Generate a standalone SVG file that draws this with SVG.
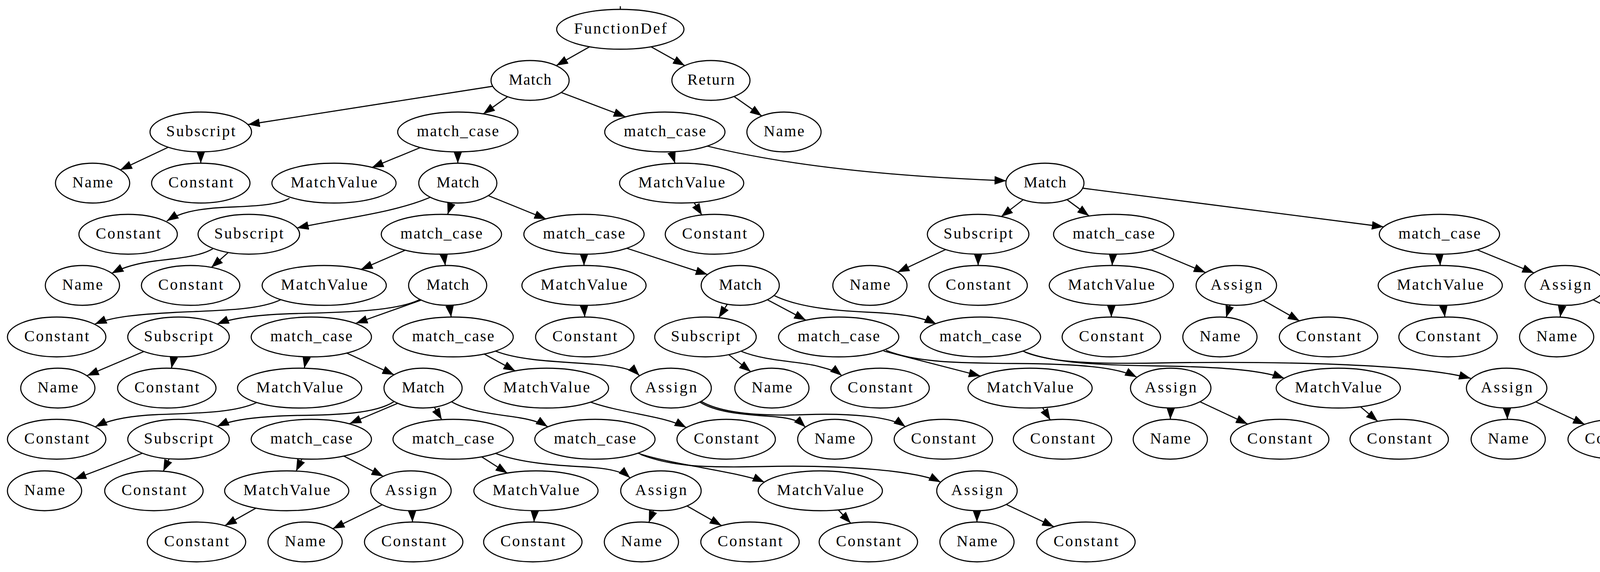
<svg xmlns="http://www.w3.org/2000/svg" width="4405" height="1465" viewBox="0 0 4405 1465">
<style>
.node ellipse{fill:#fff;stroke:#000;stroke-width:2.8}
.node text{font-family:"Liberation Serif","Times New Roman",serif;font-size:40px;text-anchor:middle;fill:#000;lengthAdjust:spacing}
.edge{fill:none;stroke:#000;stroke-width:2.8;marker-end:url(#arrow)}
.tick{stroke:#000;stroke-width:2.8}
</style>
<defs>
<marker id="arrow" markerUnits="userSpaceOnUse" viewBox="0 0 30 22" markerWidth="30" markerHeight="22" refX="30" refY="11" orient="auto">
<path d="M0,0 L30,11 L0,22 z" fill="#000"/>
</marker>
</defs>
<rect x="0" y="0" width="4405" height="1465" fill="#fff"/>
<g id="connectors">
<line class="tick" x1="1588" y1="16" x2="1588" y2="24"/>
<path class="edge" d="M1509,120 L1424,168"/>
<path class="edge" d="M1667,120 L1753,168"/>
<path class="edge" d="M1261,221 L635,319"/>
<path class="edge" d="M1299,248 L1237,292"/>
<path class="edge" d="M1437,237 L1601,299"/>
<path class="edge" d="M1879,247 L1950,297"/>
<path class="edge" d="M431,377 L308,435"/>
<path class="edge" d="M514,389 L514,418"/>
<path class="edge" d="M1076,378 L952,429"/>
<path class="edge" d="M1172,389 L1172,418"/>
<path class="edge" d="M1719,389 L1728,418"/>
<path class="edge" d="M1810,374 Q2100,445 2576,463"/>
<path class="edge" d="M741,508 C700,530 620,528 560,532 C500,536 460,545 427,566"/>
<path class="edge" d="M1102,505 C1010,545 870,560 760,584"/>
<path class="edge" d="M1156,519 L1146,549"/>
<path class="edge" d="M1250,501 L1398,561"/>
<path class="edge" d="M1777,519 L1797,551"/>
<path class="edge" d="M2620,511 L2563,555"/>
<path class="edge" d="M2731,511 L2788,553"/>
<path class="edge" d="M2772,482 L3542,581"/>
<path class="edge" d="M545,637 C510,658 450,662 400,668 C360,673 320,682 286,700"/>
<path class="edge" d="M584,647 L541,685"/>
<path class="edge" d="M1037,641 L924,690"/>
<path class="edge" d="M1136,651 L1140,680"/>
<path class="edge" d="M1495,651 L1495,680"/>
<path class="edge" d="M1605,636 L1811,703"/>
<path class="edge" d="M2421,639 L2298,697"/>
<path class="edge" d="M2504,651 L2504,680"/>
<path class="edge" d="M2849,651 L2847,680"/>
<path class="edge" d="M2947,640 L3086,698"/>
<path class="edge" d="M3685,651 L3687,680"/>
<path class="edge" d="M3782,640 L3927,699"/>
<path class="edge" d="M718,768 C660,795 560,795 450,800 C360,805 290,810 243,830"/>
<path class="edge" d="M1075,767 C1020,795 900,800 760,803 C680,805 600,812 556,830"/>
<path class="edge" d="M1080,768 L911,828"/>
<path class="edge" d="M1151,782 L1155,812"/>
<path class="edge" d="M1495,782 L1497,812"/>
<path class="edge" d="M1862,779 L1840,814"/>
<path class="edge" d="M1965,768 L2063,820"/>
<path class="edge" d="M1982,757 C2040,785 2120,795 2230,800 C2310,804 2360,812 2397,830"/>
<path class="edge" d="M2845,782 L2845,812"/>
<path class="edge" d="M3149,781 L3139,813"/>
<path class="edge" d="M3234,769 L3327,822"/>
<path class="edge" d="M3695,782 L3699,812"/>
<path class="edge" d="M3999,782 L3994,812"/>
<path class="edge" d="M4079,768 L4186,823"/>
<path class="edge" d="M369,900 L223,962"/>
<path class="edge" d="M445,914 L439,943"/>
<path class="edge" d="M785,914 L779,943"/>
<path class="edge" d="M887,904 L1009,960"/>
<path class="edge" d="M1240,907 L1319,950"/>
<path class="edge" d="M1268,899 C1320,920 1400,925 1480,930 C1560,935 1615,940 1637,962"/>
<path class="edge" d="M1865,908 L1922,952"/>
<path class="edge" d="M1898,900 C1960,925 2040,925 2090,937 C2120,945 2140,950 2155,962"/>
<path class="edge" d="M2262,899 L2510,963"/>
<path class="edge" d="M2268,897 C2340,928 2450,930 2600,931 C2760,932 2860,940 2910,966"/>
<path class="edge" d="M2618,899 C2680,925 2780,935 2950,937 C3100,939 3220,945 3288,969"/>
<path class="edge" d="M2624,902 C2690,928 2790,932 2950,930 C3150,926 3600,925 3765,969"/>
<path class="edge" d="M657,1031 C600,1058 500,1058 400,1062 C330,1065 280,1075 244,1093"/>
<path class="edge" d="M1008,1029 C960,1060 860,1063 760,1064 C680,1066 600,1072 556,1092"/>
<path class="edge" d="M1018,1033 L895,1085"/>
<path class="edge" d="M1112,1043 L1131,1075"/>
<path class="edge" d="M1156,1029 C1200,1055 1280,1062 1330,1070 C1360,1075 1385,1082 1402,1093"/>
<path class="edge" d="M1512,1030 C1600,1060 1700,1065 1757,1095"/>
<path class="edge" d="M1792,1030 C1840,1060 1920,1062 1990,1068 C2030,1072 2045,1078 2062,1094"/>
<path class="edge" d="M1795,1028 C1850,1060 1950,1066 2060,1062 C2170,1058 2280,1066 2318,1093"/>
<path class="edge" d="M2669,1044 L2689,1076"/>
<path class="edge" d="M2997,1045 L2996,1074"/>
<path class="edge" d="M3072,1029 L3194,1086"/>
<path class="edge" d="M3483,1042 L3527,1079"/>
<path class="edge" d="M3858,1045 L3859,1074"/>
<path class="edge" d="M3931,1029 L4057,1087"/>
<path class="edge" d="M364,1161 L191,1227"/>
<path class="edge" d="M433,1175 L418,1207"/>
<path class="edge" d="M773,1175 L758,1207"/>
<path class="edge" d="M880,1168 L981,1220"/>
<path class="edge" d="M1233,1170 L1299,1212"/>
<path class="edge" d="M1268,1161 C1330,1185 1420,1192 1500,1196 C1560,1200 1595,1208 1613,1224"/>
<path class="edge" d="M1634,1161 C1720,1190 1900,1210 1957,1235"/>
<path class="edge" d="M1640,1164 C1720,1195 1800,1198 1950,1195 C2150,1190 2350,1205 2408,1235"/>
<path class="edge" d="M656,1301 L576,1346"/>
<path class="edge" d="M978,1293 L852,1354"/>
<path class="edge" d="M1055,1308 L1056,1337"/>
<path class="edge" d="M1369,1308 L1367,1337"/>
<path class="edge" d="M1673,1307 L1661,1338"/>
<path class="edge" d="M1759,1296 L1847,1346"/>
<path class="edge" d="M2146,1306 L2178,1340"/>
<path class="edge" d="M2501,1308 L2501,1337"/>
<path class="edge" d="M2576,1292 L2698,1349"/>
</g>
<g id="n0" class="node"><ellipse cx="1588" cy="75" rx="163" ry="51"/><text x="1588" y="86" textLength="237">FunctionDef</text></g>
<g id="n1" class="node"><ellipse cx="1357" cy="206" rx="100" ry="51"/><text x="1357" y="217" textLength="109">Match</text></g>
<g id="n2" class="node"><ellipse cx="1820" cy="206" rx="100" ry="51"/><text x="1820" y="217" textLength="121">Return</text></g>
<g id="n3" class="node"><ellipse cx="514" cy="338" rx="130" ry="51"/><text x="514" y="349" textLength="177">Subscript</text></g>
<g id="n4" class="node"><ellipse cx="1172" cy="338" rx="154" ry="51"/><text x="1172" y="349" textLength="210">match_case</text></g>
<g id="n5" class="node"><ellipse cx="1702" cy="338" rx="154" ry="51"/><text x="1702" y="349" textLength="210">match_case</text></g>
<g id="n6" class="node"><ellipse cx="2007" cy="338" rx="95" ry="51"/><text x="2007" y="349" textLength="104">Name</text></g>
<g id="n7" class="node"><ellipse cx="237" cy="469" rx="95" ry="51"/><text x="237" y="480" textLength="104">Name</text></g>
<g id="n8" class="node"><ellipse cx="514" cy="469" rx="126" ry="51"/><text x="514" y="480" textLength="166">Constant</text></g>
<g id="n9" class="node"><ellipse cx="855" cy="469" rx="159" ry="51"/><text x="855" y="480" textLength="222">MatchValue</text></g>
<g id="n10" class="node"><ellipse cx="1172" cy="469" rx="100" ry="51"/><text x="1172" y="480" textLength="109">Match</text></g>
<g id="n11" class="node"><ellipse cx="1745" cy="469" rx="159" ry="51"/><text x="1745" y="480" textLength="222">MatchValue</text></g>
<g id="n12" class="node"><ellipse cx="2675" cy="469" rx="100" ry="51"/><text x="2675" y="480" textLength="109">Match</text></g>
<g id="n13" class="node"><ellipse cx="328" cy="600" rx="126" ry="51"/><text x="328" y="611" textLength="166">Constant</text></g>
<g id="n14" class="node"><ellipse cx="637" cy="600" rx="130" ry="51"/><text x="637" y="611" textLength="177">Subscript</text></g>
<g id="n15" class="node"><ellipse cx="1130" cy="600" rx="154" ry="51"/><text x="1130" y="611" textLength="210">match_case</text></g>
<g id="n16" class="node"><ellipse cx="1495" cy="600" rx="154" ry="51"/><text x="1495" y="611" textLength="210">match_case</text></g>
<g id="n17" class="node"><ellipse cx="1829" cy="600" rx="126" ry="51"/><text x="1829" y="611" textLength="166">Constant</text></g>
<g id="n18" class="node"><ellipse cx="2504" cy="600" rx="130" ry="51"/><text x="2504" y="611" textLength="177">Subscript</text></g>
<g id="n19" class="node"><ellipse cx="2851" cy="600" rx="154" ry="51"/><text x="2851" y="611" textLength="210">match_case</text></g>
<g id="n20" class="node"><ellipse cx="3685" cy="600" rx="154" ry="51"/><text x="3685" y="611" textLength="210">match_case</text></g>
<g id="n21" class="node"><ellipse cx="211" cy="731" rx="95" ry="51"/><text x="211" y="742" textLength="104">Name</text></g>
<g id="n22" class="node"><ellipse cx="488" cy="731" rx="126" ry="51"/><text x="488" y="742" textLength="166">Constant</text></g>
<g id="n23" class="node"><ellipse cx="830" cy="731" rx="159" ry="51"/><text x="830" y="742" textLength="222">MatchValue</text></g>
<g id="n24" class="node"><ellipse cx="1146" cy="731" rx="100" ry="51"/><text x="1146" y="742" textLength="109">Match</text></g>
<g id="n25" class="node"><ellipse cx="1495" cy="731" rx="159" ry="51"/><text x="1495" y="742" textLength="222">MatchValue</text></g>
<g id="n26" class="node"><ellipse cx="1895" cy="731" rx="100" ry="51"/><text x="1895" y="742" textLength="109">Match</text></g>
<g id="n27" class="node"><ellipse cx="2227" cy="731" rx="95" ry="51"/><text x="2227" y="742" textLength="104">Name</text></g>
<g id="n28" class="node"><ellipse cx="2504" cy="731" rx="126" ry="51"/><text x="2504" y="742" textLength="166">Constant</text></g>
<g id="n29" class="node"><ellipse cx="2845" cy="731" rx="159" ry="51"/><text x="2845" y="742" textLength="222">MatchValue</text></g>
<g id="n30" class="node"><ellipse cx="3165" cy="731" rx="103" ry="51"/><text x="3165" y="742" textLength="132">Assign</text></g>
<g id="n31" class="node"><ellipse cx="3687" cy="731" rx="159" ry="51"/><text x="3687" y="742" textLength="222">MatchValue</text></g>
<g id="n32" class="node"><ellipse cx="4007" cy="731" rx="103" ry="51"/><text x="4007" y="742" textLength="132">Assign</text></g>
<g id="n33" class="node"><ellipse cx="145" cy="863" rx="126" ry="51"/><text x="145" y="874" textLength="166">Constant</text></g>
<g id="n34" class="node"><ellipse cx="457" cy="863" rx="130" ry="51"/><text x="457" y="874" textLength="177">Subscript</text></g>
<g id="n35" class="node"><ellipse cx="797" cy="863" rx="154" ry="51"/><text x="797" y="874" textLength="210">match_case</text></g>
<g id="n36" class="node"><ellipse cx="1160" cy="863" rx="154" ry="51"/><text x="1160" y="874" textLength="210">match_case</text></g>
<g id="n37" class="node"><ellipse cx="1497" cy="863" rx="126" ry="51"/><text x="1497" y="874" textLength="166">Constant</text></g>
<g id="n38" class="node"><ellipse cx="1806" cy="863" rx="130" ry="51"/><text x="1806" y="874" textLength="177">Subscript</text></g>
<g id="n39" class="node"><ellipse cx="2147" cy="863" rx="154" ry="51"/><text x="2147" y="874" textLength="210">match_case</text></g>
<g id="n40" class="node"><ellipse cx="2510" cy="863" rx="154" ry="51"/><text x="2510" y="874" textLength="210">match_case</text></g>
<g id="n41" class="node"><ellipse cx="2845" cy="863" rx="126" ry="51"/><text x="2845" y="874" textLength="166">Constant</text></g>
<g id="n42" class="node"><ellipse cx="3123" cy="863" rx="95" ry="51"/><text x="3123" y="874" textLength="104">Name</text></g>
<g id="n43" class="node"><ellipse cx="3401" cy="863" rx="126" ry="51"/><text x="3401" y="874" textLength="166">Constant</text></g>
<g id="n44" class="node"><ellipse cx="3707" cy="863" rx="126" ry="51"/><text x="3707" y="874" textLength="166">Constant</text></g>
<g id="n45" class="node"><ellipse cx="3985" cy="863" rx="95" ry="51"/><text x="3985" y="874" textLength="104">Name</text></g>
<g id="n46" class="node"><ellipse cx="4264" cy="863" rx="126" ry="51"/><text x="4264" y="874" textLength="166">Constant</text></g>
<g id="n47" class="node"><ellipse cx="148" cy="994" rx="95" ry="51"/><text x="148" y="1005" textLength="104">Name</text></g>
<g id="n48" class="node"><ellipse cx="427" cy="994" rx="126" ry="51"/><text x="427" y="1005" textLength="166">Constant</text></g>
<g id="n49" class="node"><ellipse cx="767" cy="994" rx="159" ry="51"/><text x="767" y="1005" textLength="222">MatchValue</text></g>
<g id="n50" class="node"><ellipse cx="1083" cy="994" rx="100" ry="51"/><text x="1083" y="1005" textLength="109">Match</text></g>
<g id="n51" class="node"><ellipse cx="1399" cy="994" rx="159" ry="51"/><text x="1399" y="1005" textLength="222">MatchValue</text></g>
<g id="n52" class="node"><ellipse cx="1718" cy="994" rx="103" ry="51"/><text x="1718" y="1005" textLength="132">Assign</text></g>
<g id="n53" class="node"><ellipse cx="1976" cy="994" rx="95" ry="51"/><text x="1976" y="1005" textLength="104">Name</text></g>
<g id="n54" class="node"><ellipse cx="2253" cy="994" rx="126" ry="51"/><text x="2253" y="1005" textLength="166">Constant</text></g>
<g id="n55" class="node"><ellipse cx="2637" cy="994" rx="159" ry="51"/><text x="2637" y="1005" textLength="222">MatchValue</text></g>
<g id="n56" class="node"><ellipse cx="2997" cy="994" rx="103" ry="51"/><text x="2997" y="1005" textLength="132">Assign</text></g>
<g id="n57" class="node"><ellipse cx="3426" cy="994" rx="159" ry="51"/><text x="3426" y="1005" textLength="222">MatchValue</text></g>
<g id="n58" class="node"><ellipse cx="3857" cy="994" rx="103" ry="51"/><text x="3857" y="1005" textLength="132">Assign</text></g>
<g id="n59" class="node"><ellipse cx="145" cy="1125" rx="126" ry="51"/><text x="145" y="1136" textLength="166">Constant</text></g>
<g id="n60" class="node"><ellipse cx="457" cy="1125" rx="130" ry="51"/><text x="457" y="1136" textLength="177">Subscript</text></g>
<g id="n61" class="node"><ellipse cx="797" cy="1125" rx="154" ry="51"/><text x="797" y="1136" textLength="210">match_case</text></g>
<g id="n62" class="node"><ellipse cx="1160" cy="1125" rx="154" ry="51"/><text x="1160" y="1136" textLength="210">match_case</text></g>
<g id="n63" class="node"><ellipse cx="1523" cy="1125" rx="154" ry="51"/><text x="1523" y="1136" textLength="210">match_case</text></g>
<g id="n64" class="node"><ellipse cx="1859" cy="1125" rx="126" ry="51"/><text x="1859" y="1136" textLength="166">Constant</text></g>
<g id="n65" class="node"><ellipse cx="2137" cy="1125" rx="95" ry="51"/><text x="2137" y="1136" textLength="104">Name</text></g>
<g id="n66" class="node"><ellipse cx="2415" cy="1125" rx="126" ry="51"/><text x="2415" y="1136" textLength="166">Constant</text></g>
<g id="n67" class="node"><ellipse cx="2720" cy="1125" rx="126" ry="51"/><text x="2720" y="1136" textLength="166">Constant</text></g>
<g id="n68" class="node"><ellipse cx="2996" cy="1125" rx="95" ry="51"/><text x="2996" y="1136" textLength="104">Name</text></g>
<g id="n69" class="node"><ellipse cx="3276" cy="1125" rx="126" ry="51"/><text x="3276" y="1136" textLength="166">Constant</text></g>
<g id="n70" class="node"><ellipse cx="3582" cy="1125" rx="126" ry="51"/><text x="3582" y="1136" textLength="166">Constant</text></g>
<g id="n71" class="node"><ellipse cx="3861" cy="1125" rx="95" ry="51"/><text x="3861" y="1136" textLength="104">Name</text></g>
<g id="n72" class="node"><ellipse cx="4140" cy="1125" rx="126" ry="51"/><text x="4140" y="1136" textLength="166">Constant</text></g>
<g id="n73" class="node"><ellipse cx="114" cy="1257" rx="95" ry="51"/><text x="114" y="1268" textLength="104">Name</text></g>
<g id="n74" class="node"><ellipse cx="394" cy="1257" rx="126" ry="51"/><text x="394" y="1268" textLength="166">Constant</text></g>
<g id="n75" class="node"><ellipse cx="734" cy="1257" rx="159" ry="51"/><text x="734" y="1268" textLength="222">MatchValue</text></g>
<g id="n76" class="node"><ellipse cx="1052" cy="1257" rx="103" ry="51"/><text x="1052" y="1268" textLength="132">Assign</text></g>
<g id="n77" class="node"><ellipse cx="1372" cy="1257" rx="159" ry="51"/><text x="1372" y="1268" textLength="222">MatchValue</text></g>
<g id="n78" class="node"><ellipse cx="1692" cy="1257" rx="103" ry="51"/><text x="1692" y="1268" textLength="132">Assign</text></g>
<g id="n79" class="node"><ellipse cx="2100" cy="1257" rx="159" ry="51"/><text x="2100" y="1268" textLength="222">MatchValue</text></g>
<g id="n80" class="node"><ellipse cx="2501" cy="1257" rx="103" ry="51"/><text x="2501" y="1268" textLength="132">Assign</text></g>
<g id="n81" class="node"><ellipse cx="503" cy="1388" rx="126" ry="51"/><text x="503" y="1399" textLength="166">Constant</text></g>
<g id="n82" class="node"><ellipse cx="781" cy="1388" rx="95" ry="51"/><text x="781" y="1399" textLength="104">Name</text></g>
<g id="n83" class="node"><ellipse cx="1059" cy="1388" rx="126" ry="51"/><text x="1059" y="1399" textLength="166">Constant</text></g>
<g id="n84" class="node"><ellipse cx="1364" cy="1388" rx="126" ry="51"/><text x="1364" y="1399" textLength="166">Constant</text></g>
<g id="n85" class="node"><ellipse cx="1642" cy="1388" rx="95" ry="51"/><text x="1642" y="1399" textLength="104">Name</text></g>
<g id="n86" class="node"><ellipse cx="1920" cy="1388" rx="126" ry="51"/><text x="1920" y="1399" textLength="166">Constant</text></g>
<g id="n87" class="node"><ellipse cx="2223" cy="1388" rx="126" ry="51"/><text x="2223" y="1399" textLength="166">Constant</text></g>
<g id="n88" class="node"><ellipse cx="2501" cy="1388" rx="95" ry="51"/><text x="2501" y="1399" textLength="104">Name</text></g>
<g id="n89" class="node"><ellipse cx="2780" cy="1388" rx="126" ry="51"/><text x="2780" y="1399" textLength="166">Constant</text></g>
</svg>
